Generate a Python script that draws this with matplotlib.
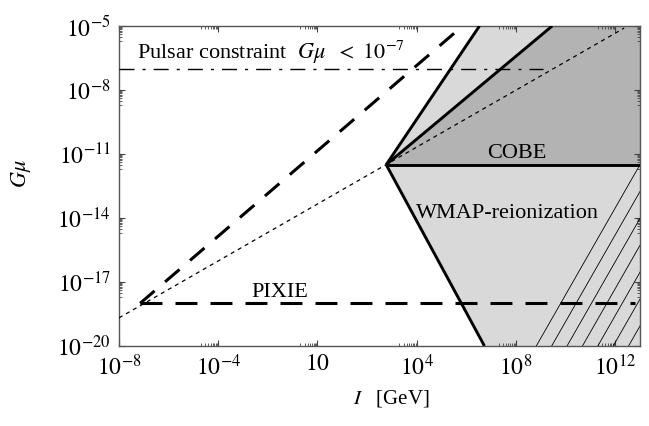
import matplotlib
matplotlib.use("Agg")
import matplotlib.pyplot as plt
import numpy as np
from matplotlib.ticker import FixedLocator, NullFormatter

plt.rcParams['font.family'] = ['Liberation Serif', 'DejaVu Serif']
plt.rcParams['mathtext.fontset'] = 'stix'
plt.rcParams['lines.scale_dashes'] = False

# all values are log10 of the plotted quantity
x_lim = [-8, 13]
y_lim = [-20, -5]
x_ticks = [-8, -4, 0, 4, 8, 12]
x_tick_labels = [r'$10^{-8}$', r'$10^{-4}$', r'$10$', r'$10^{4}$', r'$10^{8}$', r'$10^{12}$']
y_ticks = [-20, -17, -14, -11, -8, -5]
y_tick_labels = [r'$10^{-20}$', r'$10^{-17}$', r'$10^{-14}$', r'$10^{-11}$', r'$10^{-8}$', r'$10^{-5}$']

# bounds meeting at the corner point
cobe_x = [2.77, 13.0]
cobe_y = [-11.5, -11.5]
steep_x = [2.77, 6.53]
steep_y = [-11.5, -5.0]
mid_x = [2.77, 9.46]
mid_y = [-11.5, -5.0]
wmap_x = [2.77, 6.73]
wmap_y = [-11.5, -20.0]

# hatched part of the WMAP region
hatch_x = [8.82, 13.0]
hatch_y = [-20.0, -11.5]
hatch_step = 0.62
hatch_count = 8

# other curves
dotted_x = [-8.0, 12.36]
dotted_y = [-18.68, -5.1]
dashed_x = [-7.15, 5.85]
dashed_y = [-18.0, -5.0]
pixie_x = [-7.15, 12.8]
pixie_y = [-18.0, -18.0]
pulsar_x = [-8.0, 9.1]
pulsar_y = [-7.0, -7.0]


def p(v):
    return 10.0 ** np.asarray(v, dtype=float)


fig = plt.figure(figsize=(6.49, 4.26), dpi=100)
ax = fig.add_axes([0.1834, 0.1878, 0.8027, 0.7512])
ax.set_xscale('log')
ax.set_yscale('log')
ax.set_xlim(p(x_lim))
ax.set_ylim(p(y_lim))

light = '#d9d9d9'
dark = '#b3b3b3'

# light region: between the steep line, the WMAP line and the right edge
lx = [steep_x[0], steep_x[1], x_lim[1], x_lim[1], wmap_x[1]]
ly = [steep_y[0], steep_y[1], y_lim[1], y_lim[0], wmap_y[1]]
ax.fill(p(lx), p(ly), color=light, lw=0, zorder=1)
# COBE region
dx = [mid_x[0], mid_x[1], x_lim[1], x_lim[1]]
dy = [mid_y[0], mid_y[1], y_lim[1], cobe_y[1]]
ax.fill(p(dx), p(dy), color=dark, lw=0, zorder=1)

for k in range(hatch_count):
    ax.plot(p(np.array(hatch_x) + k * hatch_step), p(hatch_y), color='k', lw=0.6, zorder=2)

for xs, ys in [(cobe_x, cobe_y), (steep_x, steep_y), (mid_x, mid_y), (wmap_x, wmap_y)]:
    ax.plot(p(xs), p(ys), color='k', lw=2.1, solid_capstyle='butt', zorder=4)

ax.plot(p(dotted_x), p(dotted_y), color='k', lw=0.9, dashes=(2.9, 2.9), zorder=3)
ax.plot(p(dashed_x), p(dashed_y), color='k', lw=2.2, dashes=(13.7, 10.0), zorder=3)
ax.plot(p(pixie_x), p(pixie_y), color='k', lw=2.2, dashes=(15.8, 9.4), zorder=3)
ax.plot(p(pulsar_x), p(pulsar_y), color='k', lw=1.0, dashes=(10.8, 5.8, 2.2, 5.8), zorder=3)

fs = 16
ax.text(p(8.02), p(-11.19), 'COBE', fontsize=fs, ha='center', va='baseline', zorder=5)
ax.text(p(7.65), p(-13.99), 'WMAP-reionization', fontsize=fs, ha='center', va='baseline', zorder=5)
ax.text(p(-1.52), p(-17.72), 'PIXIE', fontsize=fs, ha='center', va='baseline', zorder=5)
ax.text(p(-7.28), p(-6.56), r'Pulsar constraint  $G\mu\ \ <\ 10^{-7}$', fontsize=fs,
        ha='left', va='baseline', zorder=5)

# ticks: a major tick per label, small ticks for the decade below it
ax.xaxis.set_major_locator(FixedLocator(p(x_ticks)))
ax.xaxis.set_ticklabels(x_tick_labels)
ax.yaxis.set_major_locator(FixedLocator(p(y_ticks)))
ax.yaxis.set_ticklabels(y_tick_labels)
xm = [np.log10(m) + t - 1 for t in x_ticks for m in range(2, 10)]
ym = [np.log10(m) + t - 1 for t in y_ticks for m in range(2, 10)]
ax.xaxis.set_minor_locator(FixedLocator(p(xm)))
ax.yaxis.set_minor_locator(FixedLocator(p(ym)))
ax.xaxis.set_minor_formatter(NullFormatter())
ax.yaxis.set_minor_formatter(NullFormatter())
ax.tick_params(which='both', direction='in', top=True, right=True, color='#444444')
ax.tick_params(which='major', length=4, width=0.8, labelsize=17, pad=6)
ax.tick_params(which='minor', length=2, width=0.6)
for s in ax.spines.values():
    s.set_color('#555555')
    s.set_linewidth(1.0)

ax.set_ylabel(r'$G\mu$', fontsize=16)
ax.yaxis.set_label_coords(-0.165, 0.54)
ax.set_xlabel(r'$I$   [GeV]', fontsize=15)
ax.xaxis.set_label_coords(0.522, -0.131)

fig.savefig('out.png', dpi=100)
